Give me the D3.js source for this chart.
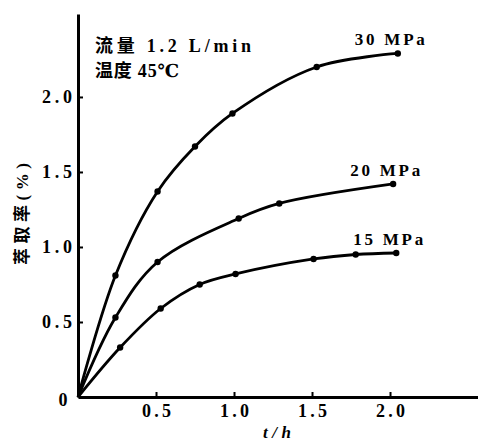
<!DOCTYPE html>
<html>
<head>
<meta charset="utf-8">
<script src="https://cdn.jsdelivr.net/npm/d3@7"></script>
<style>
  body { margin: 0; background: #fff; }
  svg { display: block; }
  text { fill: #000; }
</style>
</head>
<body>
<div id="chart"></div>
<script>
// data (t in hours, extraction rate in %)
const series = ['30 MPa', '20 MPa', '15 MPa'];
const t30 = [0, 0.24, 0.51, 0.75, 0.99, 1.53, 2.05];
const v30 = [0, 0.81, 1.37, 1.67, 1.89, 2.20, 2.29];
const t20 = [0, 0.24, 0.51, 1.03, 1.29, 2.02];
const v20 = [0, 0.53, 0.90, 1.19, 1.29, 1.42];
const t15 = [0, 0.27, 0.53, 0.78, 1.01, 1.51, 1.78, 2.04];
const v15 = [0, 0.33, 0.59, 0.75, 0.82, 0.92, 0.95, 0.96];
const xTicks = [0.5, 1.0, 1.5, 2.0];
const yTicks = [0.5, 1.0, 1.5, 2.0];
const notes = ['流量 1.2 L/min', '温度 45℃'];

const width = 478, height = 441;
const font = '"Liberation Serif", "DejaVu Serif", "Noto Sans CJK SC", serif';

const svg = d3.select('#chart').append('svg')
  .attr('width', width)
  .attr('height', height);

const x = d3.scaleLinear().domain([0, 2.564]).range([78, 478]);
const y = d3.scaleLinear().domain([0, 2.553]).range([397, 14]);

// shared text style
function bold(sel, size) {
  sel.style('font-family', font)
    .style('font-size', size + 'px')
    .style('font-weight', 'bold');
}

// axes
const xAxis = svg.append('g')
  .attr('transform', `translate(0,${y(0)})`)
  .call(d3.axisBottom(x).tickValues(xTicks).tickSizeInner(-5).tickSizeOuter(0)
    .tickFormat(d3.format('.1f')));
xAxis.select('.domain').attr('stroke-width', 3);
xAxis.selectAll('.tick line').attr('stroke-width', 2);
xAxis.selectAll('.tick text')
  .attr('y', 7)
  .attr('dy', '0.71em')
  .attr('textLength', 29)
  .attr('lengthAdjust', 'spacing')
  .call(bold, 18);

const yAxis = svg.append('g')
  .attr('transform', `translate(${x(0)},0)`)
  .call(d3.axisLeft(y).tickValues(yTicks).tickSizeInner(-5).tickSizeOuter(0)
    .tickFormat(d3.format('.1f')));
yAxis.select('.domain').attr('stroke-width', 3);
yAxis.selectAll('.tick text')
  .attr('x', -6)
  .attr('textLength', 30)
  .attr('lengthAdjust', 'spacing')
  .call(bold, 18);
yAxis.selectAll('.tick line').attr('stroke-width', 2);

// origin label
svg.append('text')
  .attr('x', x(0) - 15)
  .attr('y', y(0) + 3)
  .attr('text-anchor', 'middle')
  .attr('dy', '0.35em')
  .call(bold, 18)
  .text('0');

// axis titles
svg.append('text')
  .attr('transform', 'translate(22,214) rotate(-90)')
  .attr('text-anchor', 'middle')
  .attr('dy', '0.35em')
  .attr('textLength', 102)
  .attr('lengthAdjust', 'spacing')
  .call(bold, 17)
  .text('萃取率(%)');

svg.append('text')
  .attr('x', 277)
  .attr('y', 438)
  .attr('text-anchor', 'middle')
  .attr('textLength', 28)
  .attr('lengthAdjust', 'spacing')
  .call(bold, 17)
  .style('font-style', 'italic')
  .text('t/h');

// condition notes
svg.selectAll('.note')
  .data(notes)
  .join('text')
  .attr('class', 'note')
  .attr('x', 95)
  .attr('y', (d, i) => 52 + i * 25)
  .attr('textLength', (d, i) => i === 0 ? 156 : 84)
  .attr('lengthAdjust', 'spacing')
  .call(bold, 18)
  .text(d => d);

// curves
const data = [
  { name: series[0], pts: t30.map((t, i) => [t, v30[i]]) },
  { name: series[1], pts: t20.map((t, i) => [t, v20[i]]) },
  { name: series[2], pts: t15.map((t, i) => [t, v15[i]]) }
];

const line = d3.line()
  .x(d => x(d[0]))
  .y(d => y(d[1]))
  .curve(d3.curveCatmullRom.alpha(0.5));

const g = svg.append('g');
const curve = g.selectAll('g')
  .data(data)
  .join('g');

curve.append('path')
  .attr('d', d => line(d.pts))
  .attr('fill', 'none')
  .attr('stroke', '#000')
  .attr('stroke-width', 2.8);

curve.selectAll('circle')
  .data(d => d.pts.slice(1))
  .join('circle')
  .attr('cx', d => x(d[0]))
  .attr('cy', d => y(d[1]))
  .attr('r', 3.2)
  .attr('fill', '#000');

// series labels above the last point
curve.append('text')
  .attr('x', d => x(d.pts[d.pts.length - 1][0]) - 8)
  .attr('y', d => y(d.pts[d.pts.length - 1][1]) - 8)
  .attr('text-anchor', 'middle')
  .attr('textLength', 70)
  .attr('lengthAdjust', 'spacing')
  .call(bold, 17)
  .text(d => d.name);
</script>
</body>
</html>
